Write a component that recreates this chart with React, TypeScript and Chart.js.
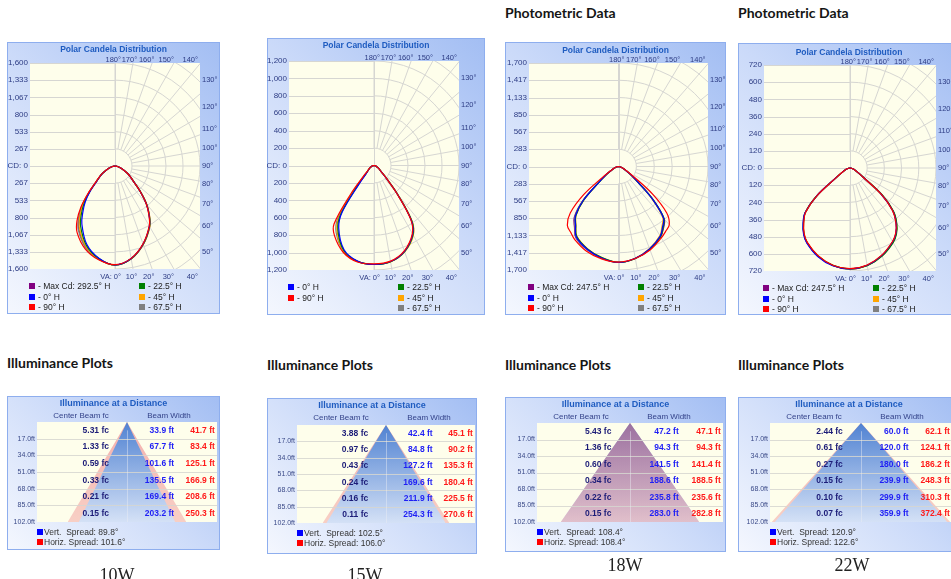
import React, { useEffect, useRef } from "react";
import { Chart, registerables } from "chart.js";

Chart.register(...registerables);

const FONT = "'Liberation Sans', Arial, sans-serif";
const HEAD_FONT = "Lato, 'Open Sans', sans-serif";

// ---------------- Polar candela data (candela vs vertical angle) ----------------
const VA_ANGLES = [0, 10, 20, 30, 35, 40, 45, 50, 55, 60, 70, 80, 90];
const EDGE_LABEL_ANGLES = [0, 10, 20, 30, 40];
const SIDE_LABEL_ANGLES = [50, 60, 70, 80, 90, 100, 110, 120, 130];

// 10W
const W10_MAX_CD = 1600;
const W10_CD_TICKS = [0, 267, 533, 800, 1067, 1333, 1600];
const W10_MAXCD_R = [1540, 1463, 1296, 1088, 942, 770, 565, 391, 296, 226, 109, 40, 0];
const W10_MAXCD_L = [1540, 1468, 1340, 1135, 985, 795, 575, 393, 297, 226, 110, 40, 0];
const W10_H0_R = [1537, 1460, 1289, 1079, 932, 761, 559, 388, 295, 225, 109, 40, 0];
const W10_H0_L = [1537, 1455, 1295, 1040, 880, 725, 545, 382, 292, 224, 109, 40, 0];
const W10_H90_R = [1533, 1457, 1286, 1075, 928, 757, 556, 386, 294, 224, 109, 40, 0];
const W10_H90_L = [1533, 1480, 1370, 1190, 1040, 830, 590, 400, 300, 228, 110, 40, 0];
const W10_H225_R = [1538, 1462, 1293, 1084, 938, 766, 563, 390, 296, 225, 109, 40, 0];
const W10_H225_L = [1538, 1460, 1312, 1080, 922, 752, 556, 386, 294, 225, 109, 40, 0];
const W10_H45_R = [1538, 1465, 1298, 1090, 945, 772, 566, 392, 297, 226, 109, 40, 0];
const W10_H45_L = [1538, 1465, 1330, 1115, 960, 780, 568, 390, 296, 226, 110, 40, 0];
const W10_H675_R = [1538, 1463, 1295, 1086, 940, 768, 564, 391, 296, 225, 109, 40, 0];
const W10_H675_L = [1538, 1470, 1350, 1150, 1000, 805, 578, 394, 298, 227, 110, 40, 0];

// 15W
const W15_MAX_CD = 1200;
const W15_CD_TICKS = [0, 200, 400, 600, 800, 1000, 1200];
const W15_H0_R = [1137, 1120, 1048, 910, 760, 420, 200, 110, 80, 60, 30, 12, 0];
const W15_H0_L = [1137, 1115, 1030, 830, 650, 260, 125, 90, 70, 55, 28, 11, 0];
const W15_H90_R = [1130, 1115, 1042, 902, 752, 415, 198, 109, 79, 60, 30, 12, 0];
const W15_H90_L = [1130, 1125, 1060, 930, 820, 420, 180, 100, 75, 58, 29, 12, 0];
const W15_H225_R = [1137, 1122, 1052, 918, 772, 430, 205, 112, 81, 61, 30, 12, 0];
const W15_H225_L = [1135, 1117, 1038, 850, 680, 290, 135, 93, 72, 56, 28, 11, 0];
const W15_H45_R = [1135, 1124, 1056, 925, 780, 440, 210, 113, 82, 61, 30, 12, 0];
const W15_H45_L = [1135, 1118, 1045, 870, 710, 320, 145, 95, 73, 57, 29, 11, 0];
const W15_H675_R = [1135, 1122, 1053, 920, 775, 435, 207, 112, 81, 61, 30, 12, 0];
const W15_H675_L = [1135, 1120, 1050, 890, 745, 360, 160, 97, 74, 57, 29, 12, 0];

// 18W
const W18_MAX_CD = 1700;
const W18_CD_TICKS = [0, 283, 567, 850, 1133, 1417, 1700];
const W18_MAXCD_R = [1576, 1535, 1450, 1335, 1240, 1130, 790, 420, 250, 145, 62, 22, 0];
const W18_MAXCD_L = [1576, 1530, 1455, 1350, 1215, 1090, 810, 430, 255, 145, 62, 22, 0];
const W18_H0_R = [1576, 1530, 1440, 1320, 1215, 1110, 760, 400, 240, 140, 60, 22, 0];
const W18_H0_L = [1576, 1525, 1445, 1335, 1185, 1060, 790, 410, 245, 140, 60, 22, 0];
const W18_H90_R = [1570, 1535, 1460, 1355, 1300, 1250, 1080, 700, 300, 150, 62, 22, 0];
const W18_H90_L = [1570, 1540, 1480, 1385, 1320, 1260, 1080, 720, 310, 150, 62, 22, 0];
const W18_H225_R = [1576, 1535, 1445, 1330, 1230, 1120, 780, 410, 245, 142, 60, 22, 0];
const W18_H225_L = [1576, 1520, 1440, 1325, 1180, 1050, 780, 405, 242, 140, 60, 22, 0];
const W18_H45_R = [1576, 1530, 1435, 1310, 1200, 1090, 750, 395, 238, 140, 60, 22, 0];
const W18_H45_L = [1576, 1520, 1435, 1320, 1175, 1045, 770, 400, 240, 140, 60, 22, 0];
const W18_H675_R = [1576, 1535, 1440, 1325, 1225, 1110, 770, 405, 242, 142, 60, 22, 0];
const W18_H675_L = [1576, 1525, 1450, 1345, 1200, 1070, 800, 420, 250, 144, 61, 22, 0];

// 22W
const W22_MAX_CD = 720;
const W22_CD_TICKS = [0, 120, 240, 360, 480, 600, 720];
const W22_MAXCD_R = [706, 692, 652, 598, 560, 503, 425, 290, 115, 66, 28, 10, 0];
const W22_MAXCD_L = [706, 690, 655, 600, 562, 506, 440, 300, 120, 68, 28, 10, 0];
const W22_H0_R = [706, 690, 650, 595, 558, 500, 420, 280, 110, 65, 28, 10, 0];
const W22_H0_L = [706, 694, 658, 604, 565, 510, 445, 305, 122, 68, 28, 10, 0];
const W22_H90_R = [704, 688, 648, 593, 556, 498, 418, 282, 110, 65, 28, 10, 0];
const W22_H90_L = [704, 690, 652, 598, 558, 502, 438, 298, 118, 67, 28, 10, 0];
const W22_H225_R = [706, 693, 655, 602, 565, 508, 430, 295, 116, 66, 28, 10, 0];
const W22_H225_L = [706, 691, 654, 600, 561, 505, 442, 302, 120, 68, 28, 10, 0];
const W22_H45_R = [706, 691, 652, 598, 561, 504, 424, 288, 113, 65, 28, 10, 0];
const W22_H45_L = [706, 690, 653, 599, 560, 504, 440, 300, 119, 67, 28, 10, 0];
const W22_H675_R = [706, 692, 653, 599, 562, 505, 426, 290, 114, 66, 28, 10, 0];
const W22_H675_L = [706, 692, 656, 602, 563, 507, 443, 303, 121, 68, 28, 10, 0];

// ---------------- Illuminance data ----------------
const DIST_FT = [17, 34, 51, 68, 85, 102];
const W10_FC = [5.31, 1.33, 0.59, 0.33, 0.21, 0.15];
const W10_VERT = [33.9, 67.7, 101.6, 135.5, 169.4, 203.2];
const W10_HORIZ = [41.7, 83.4, 125.1, 166.9, 208.6, 250.3];
const W10_SPREAD = [89.8, 101.6];
const W15_FC = [3.88, 0.97, 0.43, 0.24, 0.16, 0.11];
const W15_VERT = [42.4, 84.8, 127.2, 169.6, 211.9, 254.3];
const W15_HORIZ = [45.1, 90.2, 135.3, 180.4, 225.5, 270.6];
const W15_SPREAD = [102.5, 106.0];
const W18_FC = [5.43, 1.36, 0.6, 0.34, 0.22, 0.15];
const W18_VERT = [47.2, 94.3, 141.5, 188.6, 235.8, 283.0];
const W18_HORIZ = [47.1, 94.3, 141.4, 188.5, 235.6, 282.8];
const W18_SPREAD = [108.4, 108.4];
const W22_FC = [2.44, 0.61, 0.27, 0.15, 0.1, 0.07];
const W22_VERT = [60.0, 120.0, 180.0, 239.9, 299.9, 359.9];
const W22_HORIZ = [62.1, 124.1, 186.2, 248.3, 310.3, 372.4];
const W22_SPREAD = [120.9, 122.6];
const BEAM_HALF_RANGE_FT = 190;

const C_MAX = "#800080";
const C_H0 = "#0000ff";
const C_H90 = "#ff0000";
const C_H225 = "#008000";
const C_H45 = "#ffa500";
const C_H675 = "#808080";

type Series = { label: string; color: string; r: number[]; l: number[] };
type Box = [number, number, number, number]; // x, y, w, h
type Rect = [number, number, number, number]; // left, top, right, bottom

const W10_SERIES: Series[] = [
  { label: "- Max Cd: 292.5° H", color: C_MAX, r: W10_MAXCD_R, l: W10_MAXCD_L },
  { label: "- 0° H", color: C_H0, r: W10_H0_R, l: W10_H0_L },
  { label: "- 90° H", color: C_H90, r: W10_H90_R, l: W10_H90_L },
  { label: "- 22.5° H", color: C_H225, r: W10_H225_R, l: W10_H225_L },
  { label: "- 45° H", color: C_H45, r: W10_H45_R, l: W10_H45_L },
  { label: "- 67.5° H", color: C_H675, r: W10_H675_R, l: W10_H675_L },
];
const W15_SERIES: Series[] = [
  { label: "- 0° H", color: C_H0, r: W15_H0_R, l: W15_H0_L },
  { label: "- 90° H", color: C_H90, r: W15_H90_R, l: W15_H90_L },
  { label: "- 22.5° H", color: C_H225, r: W15_H225_R, l: W15_H225_L },
  { label: "- 45° H", color: C_H45, r: W15_H45_R, l: W15_H45_L },
  { label: "- 67.5° H", color: C_H675, r: W15_H675_R, l: W15_H675_L },
];
const W18_SERIES: Series[] = [
  { label: "- Max Cd: 247.5° H", color: C_MAX, r: W18_MAXCD_R, l: W18_MAXCD_L },
  { label: "- 0° H", color: C_H0, r: W18_H0_R, l: W18_H0_L },
  { label: "- 90° H", color: C_H90, r: W18_H90_R, l: W18_H90_L },
  { label: "- 22.5° H", color: C_H225, r: W18_H225_R, l: W18_H225_L },
  { label: "- 45° H", color: C_H45, r: W18_H45_R, l: W18_H45_L },
  { label: "- 67.5° H", color: C_H675, r: W18_H675_R, l: W18_H675_L },
];
const W22_SERIES: Series[] = [
  { label: "- Max Cd: 247.5° H", color: C_MAX, r: W22_MAXCD_R, l: W22_MAXCD_L },
  { label: "- 0° H", color: C_H0, r: W22_H0_R, l: W22_H0_L },
  { label: "- 90° H", color: C_H90, r: W22_H90_R, l: W22_H90_L },
  { label: "- 22.5° H", color: C_H225, r: W22_H225_R, l: W22_H225_L },
  { label: "- 45° H", color: C_H45, r: W22_H45_R, l: W22_H45_L },
  { label: "- 67.5° H", color: C_H675, r: W22_H675_R, l: W22_H675_L },
];

const PANEL_BG = "linear-gradient(225deg, #a3bef3 0%, #cbdaf9 45%, #f4f7fe 100%)";
const PANEL_BORDER = "1px solid #8eaeee";
const TICK_COLOR = "#2d3c84";
const TITLE_COLOR = "#1f5cc0";

function loopPoints(r: number[], l: number[]) {
  const pts: { x: number; y: number }[] = [];
  for (let i = VA_ANGLES.length - 1; i >= 1; i--) {
    const t = (VA_ANGLES[i] * Math.PI) / 180;
    pts.push({ x: -l[i] * Math.sin(t), y: -l[i] * Math.cos(t) });
  }
  for (let i = 0; i < VA_ANGLES.length; i++) {
    const t = (VA_ANGLES[i] * Math.PI) / 180;
    pts.push({ x: r[i] * Math.sin(t), y: -r[i] * Math.cos(t) });
  }
  return pts;
}

const polarGridPlugin = {
  id: "polarGrid",
  beforeDatasetsDraw(chart: any, _a: any, opts: any) {
    const { ctx, chartArea: a, scales } = chart;
    const xs = scales.x;
    const ys = scales.y;
    const M = opts.max;
    const cx = xs.getPixelForValue(0);
    const cy = ys.getPixelForValue(0);
    ctx.save();
    ctx.fillStyle = "#fefeeb";
    ctx.fillRect(a.left, a.top, a.right - a.left, a.bottom - a.top);
    ctx.beginPath();
    ctx.rect(a.left, a.top, a.right - a.left, a.bottom - a.top);
    ctx.clip();
    ctx.strokeStyle = "#d6d6d2";
    ctx.lineWidth = 1;
    const seg = (x1: number, y1: number, x2: number, y2: number) => {
      ctx.beginPath();
      ctx.moveTo(x1, y1);
      ctx.lineTo(x2, y2);
      ctx.stroke();
    };
    (opts.ticks as number[]).forEach((t) =>
      [t, -t].forEach((v) => {
        const py = Math.round(ys.getPixelForValue(v)) + 0.5;
        seg(a.left, py, cx, py);
      })
    );
    seg(Math.round(cx) + 0.5, a.top, Math.round(cx) + 0.5, a.bottom);
    const step = M / 6;
    for (let k = 1; k <= 8; k++) {
      const rx = xs.getPixelForValue(k * step) - cx;
      const ry = cy - ys.getPixelForValue(k * step);
      ctx.beginPath();
      ctx.ellipse(cx, cy, rx, ry, 0, -Math.PI / 2, Math.PI / 2);
      ctx.stroke();
    }
    for (let ang = 0; ang <= 180; ang += 10) {
      const t = (ang * Math.PI) / 180;
      seg(
        xs.getPixelForValue(step * Math.sin(t)),
        ys.getPixelForValue(-step * Math.cos(t)),
        xs.getPixelForValue(3 * M * Math.sin(t)),
        ys.getPixelForValue(-3 * M * Math.cos(t))
      );
    }
    ctx.restore();
  },
  afterDraw(chart: any, _a: any, opts: any) {
    const { ctx, chartArea: a, scales } = chart;
    const xs = scales.x;
    const ys = scales.y;
    const M = opts.max;
    ctx.save();
    ctx.fillStyle = TICK_COLOR;
    ctx.font = `7.5px ${FONT}`;
    ctx.textBaseline = "middle";
    ctx.textAlign = "right";
    EDGE_LABEL_ANGLES.forEach((ang) => {
      const px = xs.getPixelForValue(0.9 * M * Math.tan((ang * Math.PI) / 180)) + 6;
      ctx.fillText(`${180 - ang}°`, px, a.top - 3.5);
      ctx.fillText(ang === 0 ? "VA: 0°" : `${ang}°`, px, a.bottom + 7.5);
    });
    ctx.textAlign = "left";
    SIDE_LABEL_ANGLES.forEach((ang) => {
      const t = (ang * Math.PI) / 180;
      const yv = ang === 90 ? 0 : (-M * Math.cos(t)) / Math.sin(t);
      ctx.fillText(`${ang}°`, a.right + 2, ys.getPixelForValue(yv));
    });
    ctx.restore();
  },
};

function Txt(props: {
  x: number;
  y: number;
  children: any;
  size?: number;
  weight?: number;
  color?: string;
  align?: "left" | "center" | "right";
  family?: string;
}) {
  const { x, y, children, size = 8, weight = 400, color = "#222", align = "left", family = FONT } = props;
  const tx = align === "left" ? "0" : align === "center" ? "-50%" : "-100%";
  return (
    <div
      style={{
        position: "absolute",
        left: x,
        top: y,
        transform: `translate(${tx}, -50%)`,
        fontSize: size,
        fontWeight: weight,
        color,
        fontFamily: family,
        whiteSpace: "pre",
        lineHeight: 1,
      }}
    >
      {children}
    </div>
  );
}

function Swatch({ x, y, color }: { x: number; y: number; color: string }) {
  return <div style={{ position: "absolute", left: x, top: y - 3, width: 6, height: 6, background: color }} />;
}

function PolarPanel(props: {
  box: Box;
  plot: Rect;
  max: number;
  ticks: number[];
  series: Series[];
  legendLeft: Series[];
  legendRight: Series[];
  titleY: number;
}) {
  const { box, plot, max, ticks, series, legendLeft, legendRight, titleY } = props;
  const ref = useRef<HTMLCanvasElement>(null);
  const [bx, by, bw, bh] = box;
  const [pl, pt, pr, pb] = plot;
  useEffect(() => {
    const order = ["#ff0000", "#0000ff", "#008000", "#ffa500", "#808080", "#800080"];
    const sorted = [...series].sort((s1, s2) => order.indexOf(s1.color) - order.indexOf(s2.color));
    const chart = new Chart(ref.current as HTMLCanvasElement, {
      type: "scatter",
      data: {
        datasets: sorted.map((s) => ({
          label: s.label,
          data: loopPoints(s.r, s.l),
          showLine: true,
          borderColor: s.color,
          backgroundColor: s.color,
          borderWidth: 1.2,
          pointRadius: 0,
          fill: false,
          tension: 0.35,
        })),
      },
      options: {
        animation: false,
        responsive: false,
        maintainAspectRatio: false,
        events: [],
        layout: { padding: { left: 0, top: pt - by, right: bx + bw - pr, bottom: by + bh - pb } },
        plugins: {
          legend: { display: false },
          tooltip: { enabled: false },
          // @ts-ignore
          polarGrid: { max, ticks },
        },
        scales: {
          x: { type: "linear", min: (-5 * max) / 6, max: (5 * max) / 6, display: false },
          y: {
            type: "linear",
            min: -max,
            max: max,
            grid: { display: false, drawTicks: false },
            border: { display: false },
            afterFit: (s: any) => {
              s.width = pl - bx;
            },
            afterBuildTicks: (s: any) => {
              const vals = [...ticks.slice(1).reverse().map((v) => -v), ...ticks];
              s.ticks = vals.map((v) => ({ value: v }));
            },
            ticks: {
              autoSkip: false,
              padding: 2,
              color: TICK_COLOR,
              font: { family: FONT, size: 8 },
              callback: (v: any) => (v === 0 ? "CD: 0" : Math.abs(v).toLocaleString("en-US")),
            },
          },
        },
      },
      plugins: [polarGridPlugin as any],
    });
    return () => chart.destroy();
  }, []);
  const rowY = [pb + 17, pb + 27.5, pb + 38];
  return (
    <>
      <div
        style={{
          position: "absolute",
          left: bx,
          top: by,
          width: bw,
          height: bh,
          boxSizing: "border-box",
          border: PANEL_BORDER,
          background: PANEL_BG,
        }}
      />
      <canvas ref={ref} width={bw} height={bh} style={{ position: "absolute", left: bx, top: by, width: bw, height: bh }} />
      <Txt x={bx + bw / 2} y={titleY} align="center" size={8.5} weight={700} color={TITLE_COLOR}>
        Polar Candela Distribution
      </Txt>
      {legendLeft.map((s, i) => (
        <React.Fragment key={"l" + i}>
          <Swatch x={pl - 1} y={rowY[i]} color={s.color} />
          <Txt x={pl + 8} y={rowY[i]} size={8.5} color="#222">
            {s.label}
          </Txt>
        </React.Fragment>
      ))}
      {legendRight.map((s, i) => (
        <React.Fragment key={"r" + i}>
          <Swatch x={pl + 109} y={rowY[i]} color={s.color} />
          <Txt x={pl + 118} y={rowY[i]} size={8.5} color="#222">
            {s.label}
          </Txt>
        </React.Fragment>
      ))}
    </>
  );
}

const illumPlugin = {
  id: "illum",
  beforeDatasetsDraw(chart: any) {
    const { ctx, chartArea: a } = chart;
    ctx.save();
    ctx.fillStyle = "#fefeeb";
    ctx.fillRect(a.left, a.top, a.right - a.left, a.bottom - a.top);
    ctx.restore();
  },
  afterDatasetsDraw(chart: any, _a: any, opts: any) {
    const { ctx, chartArea: a, scales } = chart;
    const xs = scales.x;
    const ys = scales.y;
    ctx.save();
    ctx.strokeStyle = "rgba(214,214,208,0.85)";
    ctx.lineWidth = 1;
    DIST_FT.slice(0, -1).forEach((d) => {
      const py = Math.round(ys.getPixelForValue(d)) + 0.5;
      ctx.beginPath();
      ctx.moveTo(a.left, py);
      ctx.lineTo(a.right, py);
      ctx.stroke();
    });
    const cx = Math.round(xs.getPixelForValue(0)) + 0.5;
    ctx.strokeStyle = "rgba(235,238,245,0.45)";
    ctx.beginPath();
    ctx.moveTo(cx, ys.getPixelForValue(DIST_FT[0] / 2));
    ctx.lineTo(cx, a.bottom);
    ctx.stroke();
    const w = a.right - a.left;
    ctx.font = `bold 8.5px ${FONT}`;
    ctx.textBaseline = "middle";
    ctx.textAlign = "right";
    DIST_FT.forEach((d, i) => {
      const yc = ys.getPixelForValue(d - DIST_FT[0] / 2);
      ctx.fillStyle = "#1c1c78";
      ctx.fillText(`${opts.fc[i].toFixed(2)} fc`, a.left + 0.4 * w, yc);
      ctx.fillStyle = "#1f1ff5";
      ctx.fillText(`${opts.vert[i].toFixed(1)} ft`, a.left + 0.762 * w, yc);
      ctx.fillStyle = "#ff1a1a";
      ctx.fillText(`${opts.horiz[i].toFixed(1)} ft`, a.left + 0.988 * w, yc);
    });
    ctx.restore();
  },
};

function conePoints(widths: number[]) {
  const left = DIST_FT.map((d, i) => ({ x: -widths[i] / 2, y: d })).reverse();
  const right = DIST_FT.map((d, i) => ({ x: widths[i] / 2, y: d }));
  return [...left, { x: 0, y: 0 }, ...right];
}

function IllumPanel(props: { box: Box; plot: Rect; fc: number[]; vert: number[]; horiz: number[]; spread: number[] }) {
  const { box, plot, fc, vert, horiz, spread } = props;
  const ref = useRef<HTMLCanvasElement>(null);
  const [bx, by, bw, bh] = box;
  const [pl, pt, pr, pb] = plot;
  useEffect(() => {
    const vLast = vert[vert.length - 1];
    const hLast = horiz[horiz.length - 1];
    const grad = (stops: [string, string]) => (c: any) => {
      const ar = c.chart.chartArea;
      if (!ar) return stops[0];
      const g = c.chart.ctx.createLinearGradient(0, ar.top, 0, ar.bottom);
      g.addColorStop(0, stops[0]);
      g.addColorStop(1, stops[1]);
      return g;
    };
    const chart = new Chart(ref.current as HTMLCanvasElement, {
      type: "scatter",
      data: {
        datasets: [
          {
            label: "Vert",
            data: conePoints(vert),
            showLine: true,
            borderWidth: 0,
            borderColor: "rgba(0,0,0,0)",
            pointRadius: 0,
            tension: 0,
            fill: { value: DIST_FT[DIST_FT.length - 1] },
            backgroundColor: grad(["rgb(80,130,210)", "rgb(212,225,246)"]),
            order: vLast <= hLast ? 0 : 1,
          },
          {
            label: "Horiz",
            data: conePoints(horiz),
            showLine: true,
            borderWidth: 0,
            borderColor: "rgba(0,0,0,0)",
            pointRadius: 0,
            tension: 0,
            fill: { value: DIST_FT[DIST_FT.length - 1] },
            backgroundColor: grad(["rgba(232,96,110,0.5)", "rgba(240,150,150,0.45)"]),
            order: hLast < vLast ? 0 : 1,
          },
        ],
      },
      options: {
        animation: false,
        responsive: false,
        maintainAspectRatio: false,
        events: [],
        layout: { padding: { left: 0, top: pt - by, right: bx + bw - pr, bottom: by + bh - pb } },
        plugins: {
          legend: { display: false },
          tooltip: { enabled: false },
          // @ts-ignore
          illum: { fc, vert, horiz },
        },
        scales: {
          x: { type: "linear", min: -BEAM_HALF_RANGE_FT, max: BEAM_HALF_RANGE_FT, display: false },
          y: {
            type: "linear",
            reverse: true,
            min: 0,
            max: DIST_FT[DIST_FT.length - 1],
            grid: { display: false, drawTicks: false },
            border: { display: false },
            afterFit: (s: any) => {
              s.width = pl - bx;
            },
            afterBuildTicks: (s: any) => {
              s.ticks = DIST_FT.map((v) => ({ value: v }));
            },
            ticks: {
              autoSkip: false,
              padding: 2,
              color: "#3b4a88",
              font: { family: FONT, size: 7 },
              callback: (v: any) => `${Number(v).toFixed(1)}ft`,
            },
          },
        },
      },
      plugins: [illumPlugin as any],
    });
    return () => chart.destroy();
  }, []);
  return (
    <>
      <div
        style={{
          position: "absolute",
          left: bx,
          top: by,
          width: bw,
          height: bh,
          boxSizing: "border-box",
          border: PANEL_BORDER,
          background: PANEL_BG,
        }}
      />
      <canvas ref={ref} width={bw} height={bh} style={{ position: "absolute", left: bx, top: by, width: bw, height: bh }} />
      <Txt x={bx + bw / 2} y={by + 7} align="center" size={9} weight={700} color={TITLE_COLOR}>
        Illuminance at a Distance
      </Txt>
      <Txt x={pl + 44} y={by + 20} align="center" size={8} color="#34438a">
        Center Beam fc
      </Txt>
      <Txt x={pl + 132} y={by + 20} align="center" size={8} color="#34438a">
        Beam Width
      </Txt>
      <Swatch x={pl} y={pb + 9.5} color="#0000ff" />
      <Txt x={pl + 7} y={pb + 9.5} size={8.5} color="#333">
        {`Vert.  Spread: ${spread[0].toFixed(1)}°`}
      </Txt>
      <Swatch x={pl} y={pb + 19.5} color="#ff0000" />
      <Txt x={pl + 7} y={pb + 19.5} size={8.5} color="#333">
        {`Horiz. Spread: ${spread[1].toFixed(1)}°`}
      </Txt>
    </>
  );
}

const SERIF = "'Liberation Serif', 'Times New Roman', serif";

export default function App() {
  const pick = (arr: Series[], labels: string[]) => labels.map((l) => arr.find((s) => s.label.includes(l)) as Series);
  return (
    <div
      style={{
        position: "absolute",
        left: 0,
        top: 0,
        width: 951,
        height: 579,
        background: "#ffffff",
        overflow: "hidden",
      }}
    >
      <Txt x={505} y={13} size={14} weight={700} color="#151515" family={HEAD_FONT}>
        Photometric Data
      </Txt>
      <Txt x={738} y={13} size={14} weight={700} color="#151515" family={HEAD_FONT}>
        Photometric Data
      </Txt>
      <Txt x={7} y={363} size={14} weight={700} color="#151515" family={HEAD_FONT}>
        Illuminance Plots
      </Txt>
      <Txt x={267} y={365} size={14} weight={700} color="#151515" family={HEAD_FONT}>
        Illuminance Plots
      </Txt>
      <Txt x={505} y={365} size={14} weight={700} color="#151515" family={HEAD_FONT}>
        Illuminance Plots
      </Txt>
      <Txt x={738} y={365} size={14} weight={700} color="#151515" family={HEAD_FONT}>
        Illuminance Plots
      </Txt>

      <PolarPanel
        box={[7, 42, 213, 272]}
        plot={[30, 63, 200, 269]}
        max={W10_MAX_CD}
        ticks={W10_CD_TICKS}
        series={W10_SERIES}
        legendLeft={pick(W10_SERIES, ["Max", "- 0°", "- 90°"])}
        legendRight={pick(W10_SERIES, ["22.5", "45°", "67.5"])}
        titleY={48.5}
      />
      <PolarPanel
        box={[267, 38, 218, 277]}
        plot={[289, 61, 459, 270]}
        max={W15_MAX_CD}
        ticks={W15_CD_TICKS}
        series={W15_SERIES}
        legendLeft={pick(W15_SERIES, ["- 0°", "- 90°"])}
        legendRight={pick(W15_SERIES, ["22.5", "45°", "67.5"])}
        titleY={45}
      />
      <PolarPanel
        box={[505, 42, 221, 273]}
        plot={[529, 63, 708, 270]}
        max={W18_MAX_CD}
        ticks={W18_CD_TICKS}
        series={W18_SERIES}
        legendLeft={pick(W18_SERIES, ["Max", "- 0°", "- 90°"])}
        legendRight={pick(W18_SERIES, ["22.5", "45°", "67.5"])}
        titleY={50}
      />
      <PolarPanel
        box={[738, 43, 222, 272]}
        plot={[764, 65, 936, 271]}
        max={W22_MAX_CD}
        ticks={W22_CD_TICKS}
        series={W22_SERIES}
        legendLeft={pick(W22_SERIES, ["Max", "- 0°", "- 90°"])}
        legendRight={pick(W22_SERIES, ["22.5", "45°", "67.5"])}
        titleY={52}
      />

      <IllumPanel box={[7, 396, 213, 154]} plot={[37, 422, 217, 522]} fc={W10_FC} vert={W10_VERT} horiz={W10_HORIZ} spread={W10_SPREAD} />
      <IllumPanel box={[267, 398, 210, 156]} plot={[297, 425, 475, 523]} fc={W15_FC} vert={W15_VERT} horiz={W15_HORIZ} spread={W15_SPREAD} />
      <IllumPanel box={[505, 397, 221, 155]} plot={[537, 423, 723, 522]} fc={W18_FC} vert={W18_VERT} horiz={W18_HORIZ} spread={W18_SPREAD} />
      <IllumPanel box={[738, 397, 222, 155]} plot={[770, 423, 952, 522]} fc={W22_FC} vert={W22_VERT} horiz={W22_HORIZ} spread={W22_SPREAD} />

      <Txt x={117} y={575} align="center" size={18} color="#222" family={SERIF}>
        10W
      </Txt>
      <Txt x={365} y={575} align="center" size={18} color="#222" family={SERIF}>
        15W
      </Txt>
      <Txt x={625} y={565} align="center" size={18} color="#222" family={SERIF}>
        18W
      </Txt>
      <Txt x={852} y={565} align="center" size={18} color="#222" family={SERIF}>
        22W
      </Txt>
    </div>
  );
}
